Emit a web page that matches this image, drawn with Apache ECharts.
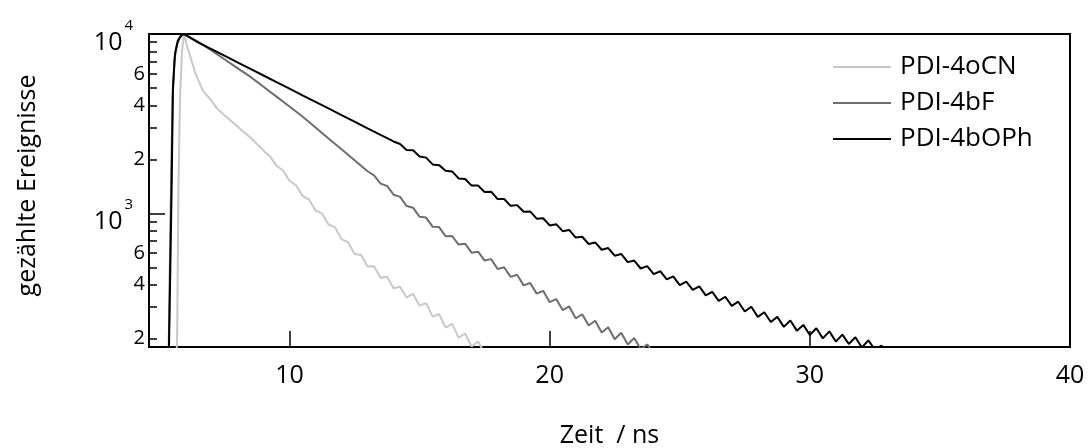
<!DOCTYPE html>
<html>
<head>
<meta charset="utf-8">
<script src="https://cdn.jsdelivr.net/npm/echarts@6/dist/echarts.min.js"></script>
<style>html,body{margin:0;padding:0;background:#fff;}#c{width:1089px;height:448px;}</style>
</head>
<body>
<div id="c"></div>
<script>
// ---- data (time in ns, counts) ----
const seriesNames = ['PDI-4oCN', 'PDI-4bF', 'PDI-4bOPh'];
const xTickLabels = [10, 20, 30, 40];
const yMajorTicks = [1000, 10000];
const yMinorTicks = [200, 300, 400, 500, 600, 700, 800, 900, 2000, 3000, 4000, 5000, 6000, 7000, 8000, 9000];
const yMinorLabels = [200, 400, 600, 2000, 4000, 6000];

const oCN = [
  [5.60,150],[5.68,185],[5.73,1350],[5.79,4250],[5.87,8070],[5.95,10000],[6.06,8610],[6.18,7570],
  [6.37,6100],[6.67,4840],[7.0,4250],[7.21,3850],[7.5,3520],[7.83,3210],[8.15,2920],[8.48,2655],
  [8.8,2400],[9.13,2147],[9.25,2080],[9.5,1845],[9.75,1734],[10.0,1521],[10.25,1436],[10.5,1253],
  [10.75,1194],[11.0,1038],[11.25,1000],[11.5,867],[11.75,836],[12.0,718],[12.25,690],[12.5,594],
  [12.75,586],[13.0,506],[13.25,507],[13.5,438],[13.75,443],[14.0,383],[14.25,390],[14.5,340],
  [14.75,356],[15.0,306],[15.25,316],[15.5,266],[15.75,275],[16.0,231],[16.25,242],[16.5,203],
  [16.75,214],[17.0,181],[17.25,193],[17.5,166]
];
const bF = [
  [5.30,150],[5.36,185],[5.41,600],[5.46,1800],[5.51,4500],[5.58,7200],[5.68,8800],[5.80,9600],
  [5.92,10000],[6.0,9900],[6.5,9036],[7.0,8110],[7.5,7228],[8.0,6457],[8.5,5768],[9.0,5082],
  [9.5,4477],[10.0,3945],[10.5,3467],[11.0,3013],[11.5,2618],[12.0,2275],[12.5,1977],[13.0,1718],
  [13.25,1629],[13.5,1466],[13.75,1422],[14.0,1271],[14.25,1236],[14.5,1099],[14.75,1076],[15.0,957],
  [15.25,948],[15.5,843],[15.75,839],[16.0,746],[16.25,748],[16.5,670],[16.75,678],[17.0,604],
  [17.25,612],[17.5,546],[17.75,556],[18.0,490],[18.25,501],[18.5,443],[18.75,455],[19.0,397],
  [19.25,409],[19.5,357],[19.75,370],[20.0,320],[20.25,333],[20.5,289],[20.75,303],[21.0,260],
  [21.25,274],[21.5,237],[21.75,252],[22.0,217],[22.25,232],[22.5,199],[22.75,216],[23.0,186],
  [23.25,202],[23.5,175],[23.75,186],[24.0,165]
];
const bOPh = [
  [5.30,150],[5.37,185],[5.42,500],[5.47,1400],[5.52,5000],[5.60,7800],[5.71,9200],[5.82,9750],
  [5.92,10000],[6.0,9900],[6.5,8954],[7.0,8241],[7.5,7568],[8.0,6954],[8.5,6389],[9.0,5871],
  [9.5,5395],[10.0,4957],[10.5,4553],[11.0,4185],[11.5,3846],[12.0,3534],[12.5,3247],[13.0,2982],
  [13.5,2740],[14.0,2518],[14.25,2438],[14.5,2259],[14.75,2249],[15.0,2075],[15.25,2046],[15.5,1875],
  [15.75,1858],[16.0,1730],[16.25,1714],[16.5,1567],[16.75,1556],[17.0,1429],[17.25,1429],[17.5,1315],
  [17.75,1321],[18.0,1202],[18.25,1202],[18.5,1102],[18.75,1112],[19.0,1021],[19.25,1026],[19.5,935],
  [19.75,940],[20.0,857],[20.25,871],[20.5,796],[20.75,809],[21.0,733],[21.25,741],[21.5,675],
  [21.75,689],[22.0,627],[22.25,641],[22.5,581],[22.75,594],[23.0,535],[23.25,546],[23.5,493],
  [23.75,508],[24.0,459],[24.25,476],[24.5,429],[24.75,446],[25.0,398],[25.25,416],[25.5,375],
  [25.75,392],[26.0,349],[26.25,365],[26.5,325],[26.75,343],[27.0,305],[27.25,322],[27.5,284],
  [27.75,302],[28.0,265],[28.25,281],[28.5,248],[28.75,265],[29.0,233],[29.25,253],[29.5,222],
  [29.75,239],[30.0,210],[30.25,229],[30.5,201],[30.75,220],[31.0,193],[31.25,211],[31.5,187],
  [31.75,204],[32.0,179],[32.25,196],[32.5,174],[32.75,183],[33.0,168]
];
const seriesData = [oCN, bF, bOPh];
const seriesColors = ['#c8c8c8', '#6e6e6e', '#000000'];

const FONT = 'Open Sans';
const chart = echarts.init(document.getElementById('c'), null, {renderer: 'canvas'});
const yBase = {
  type: 'log', logBase: 10, min: 180, max: 10000, gridIndex: 0, position: 'left',
  splitLine: {show: false}, minorTick: {show: false}
};
chart.setOption({
  animation: false,
  backgroundColor: '#fff',
  textStyle: {fontFamily: FONT},
  grid: {left: 149, right: 19, top: 34, bottom: 101, show: true, borderColor: '#000', borderWidth: 2, outerBoundsMode: 'none'},
  legend: {
    orient: 'vertical', left: 833, top: 52, padding: 0, icon: 'rect', itemWidth: 58, itemHeight: 2, itemGap: 6,
    textStyle: {fontFamily: FONT, fontSize: 26, color: '#000', lineHeight: 30, padding: [0, 0, 0, 4]},
    data: seriesNames
  },
  xAxis: {
    type: 'value', min: 4.6, max: 40,
    name: 'Zeit  / ns', nameLocation: 'middle', nameGap: 76,
    nameTextStyle: {fontFamily: FONT, fontSize: 25, color: '#000'},
    axisLine: {show: true, lineStyle: {color: '#000', width: 2}},
    axisTick: {show: true, inside: true, length: 16, lineStyle: {color: '#000', width: 1.5}, customValues: xTickLabels.slice(0, 3)},
    axisLabel: {show: true, customValues: xTickLabels, fontFamily: FONT, fontSize: 25, color: '#000', margin: 16},
    splitLine: {show: false}
  },
  yAxis: [
    Object.assign({}, yBase, {
      name: 'gezählte Ereignisse', nameLocation: 'middle', nameGap: 109,
      nameTextStyle: {fontFamily: FONT, fontSize: 25, color: '#000', padding: [0, 0, 0, 10]},
      axisLine: {show: true, lineStyle: {color: '#000', width: 2}},
      axisTick: {show: true, inside: true, length: 16, lineStyle: {color: '#000', width: 1.5}, customValues: yMajorTicks},
      axisLabel: {
        show: true, customValues: yMajorTicks, margin: 16, color: '#000',
        formatter: function (v) { return '{b|10}{s|' + Math.round(Math.log10(v)) + '}'; },
        rich: {
          b: {fontFamily: FONT, fontSize: 25, lineHeight: 42, verticalAlign: 'bottom', color: '#000'},
          s: {fontFamily: FONT, fontSize: 15, lineHeight: 15, padding: [5, 0, 0, 2], verticalAlign: 'top', color: '#000'}
        }
      }
    }),
    Object.assign({}, yBase, {
      axisLine: {show: false},
      axisTick: {show: true, inside: true, length: 8, lineStyle: {color: '#000', width: 1.5}, customValues: yMinorTicks},
      axisLabel: {
        show: true, customValues: yMinorLabels, margin: 4, color: '#000', fontFamily: FONT, fontSize: 20,
        formatter: function (v) { return String(v).charAt(0); }
      }
    })
  ],
  series: seriesNames.map(function (n, i) {
    return {
      name: n, type: 'line', data: seriesData[i], xAxisIndex: 0, yAxisIndex: 0,
      symbol: 'none', showSymbol: false, clip: true, z: 2 + i,
      color: seriesColors[i],
      lineStyle: {color: seriesColors[i], width: 2}
    };
  })
});
</script>
</body>
</html>
